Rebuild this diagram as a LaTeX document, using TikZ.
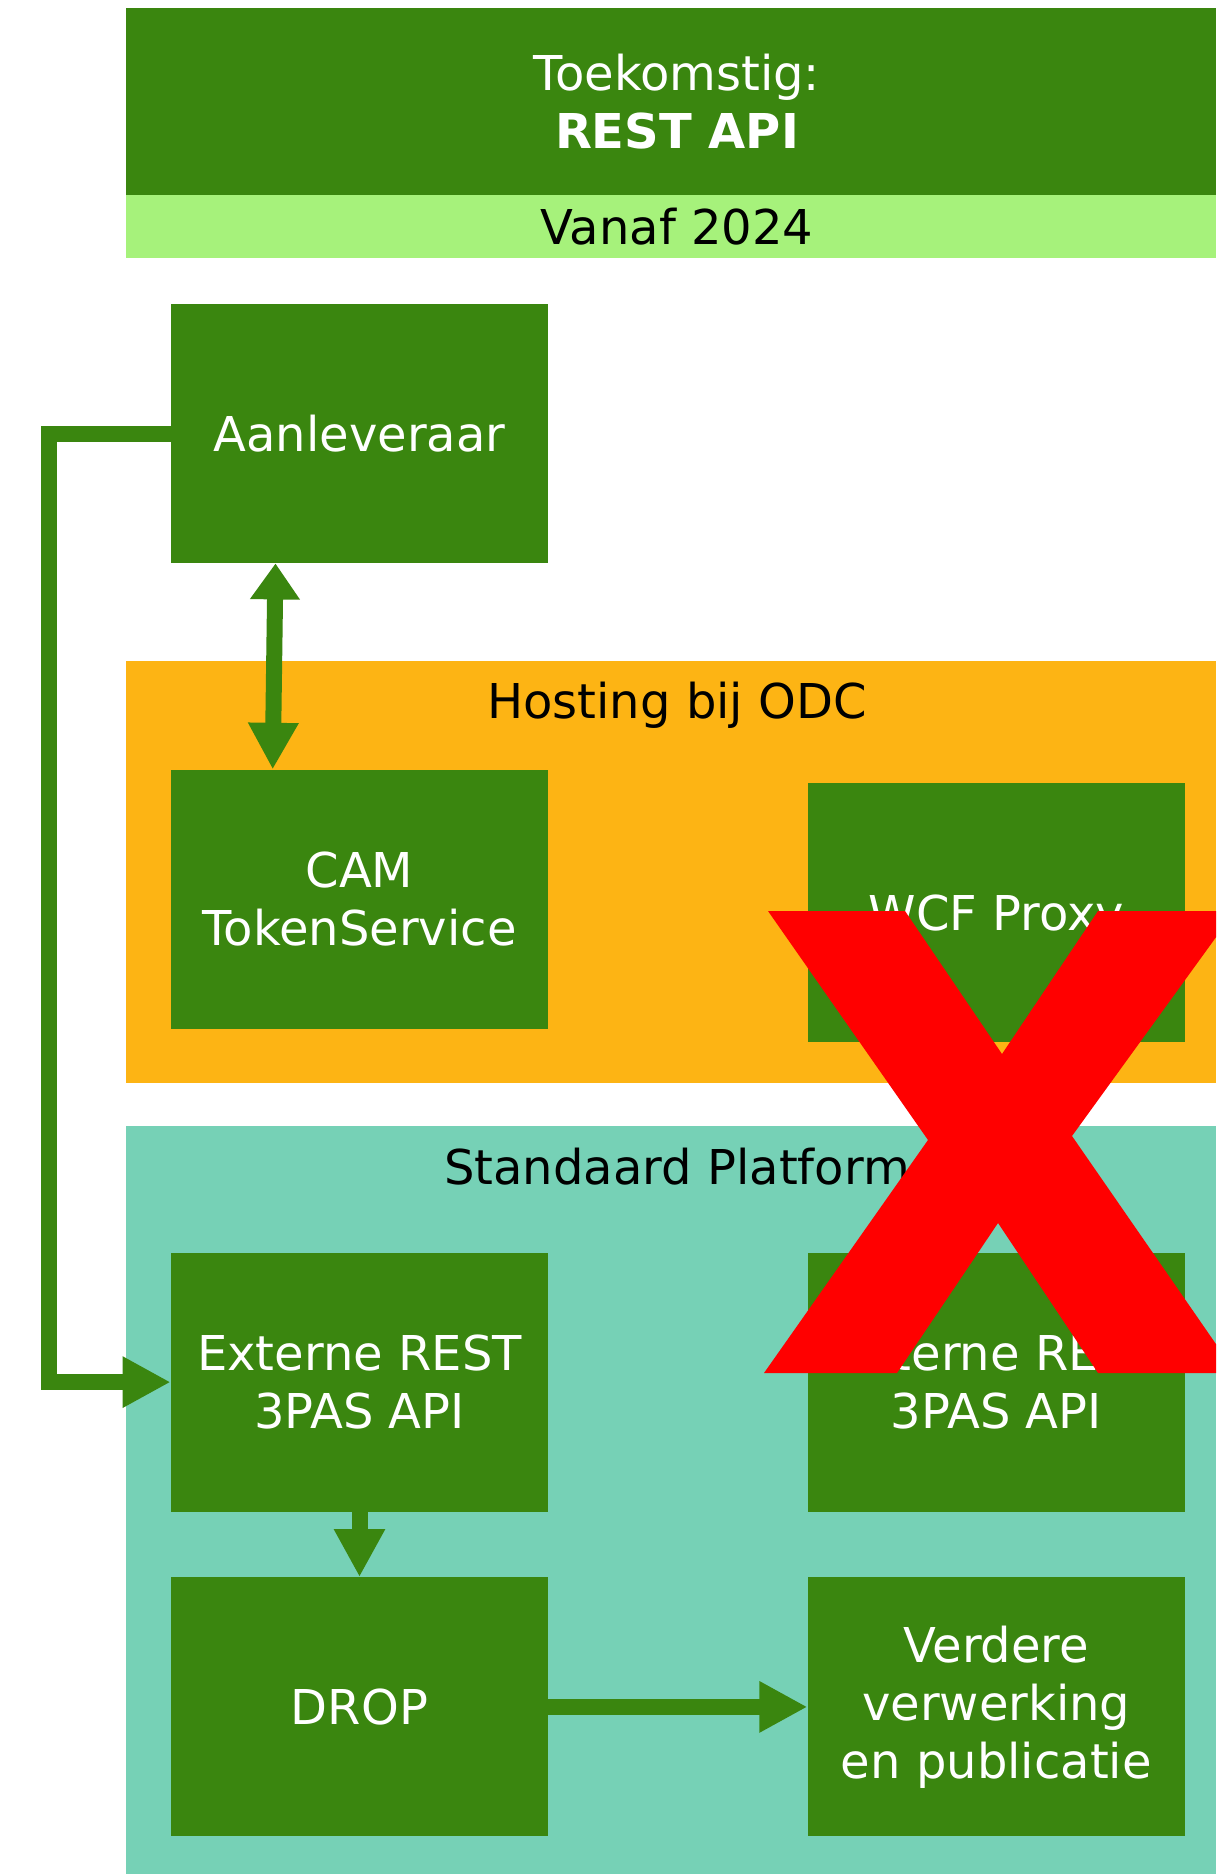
\documentclass[tikz,border=0pt]{standalone}
\usepackage{fontspec}
\setmainfont{DejaVu Sans}
\usetikzlibrary{positioning,arrows.meta}
\definecolor{donkergroen}{RGB}{58,134,15}
\definecolor{lichtgroen}{RGB}{166,242,123}
\definecolor{oranje}{RGB}{253,180,20}
\definecolor{turkoois}{RGB}{118,209,182}
\definecolor{rood}{RGB}{255,0,0}
\tikzset{
  blok/.style={fill=donkergroen, text=white, minimum width=188.5pt, minimum height=129.5pt,
    inner sep=0pt, align=center, font=\fontsize{24}{29}\selectfont},
  kopTekst/.style={font=\fontsize{24}{29}\selectfont, align=center},
  pijl/.style={draw=donkergroen, line width=8pt, -{Triangle[length=24pt,width=24pt]}},
}

\begin{document}
\begin{tikzpicture}[x=0.5pt,y=-0.5pt]
\clip (0,0) rectangle (1216,1874);
\fill[white] (0,0) rectangle (1216,1874);
%% de vlakken
\fill[donkergroen] (126,8) rectangle (1216,195);
\fill[lichtgroen] (126,195) rectangle (1216,258);
\fill[oranje] (126,661) rectangle (1216,1083);
\fill[turkoois] (126,1126) rectangle (1216,1874);
%koppen
\node [kopTekst, text=white] (kopTitel) at (677,101.5) {Toekomstig:\\\textbf{REST API}};
\node [kopTekst] (kopJaar) at (677,227) {Vanaf 2024};
\node [kopTekst, anchor=base] (kopOdc) at (677,718) {Hosting bij ODC};
\node [kopTekst, anchor=base] (kopPlatform) at (677,1184.5) {Standaard Platform};
%the nodes
\node [blok] (aanleveraar) at (359.5,433.5) {Aanleveraar};
\node [blok, below=103pt of aanleveraar] (camToken) {CAM\\TokenService};
\node [blok, text depth=0pt, right=129.5pt of camToken, yshift=-6.5pt] (wcfProxy) {WCF Proxy};
\node [blok, below=111.5pt of camToken] (externRest) {Externe REST\\3PAS API};
\node [blok, right=129.5pt of externRest] (externRestOud) {Externe REST\\3PAS API};
\node [blok, below=32.5pt of externRest] (drop) {DROP};
\node [blok, right=129.5pt of drop] (verdere) {Verdere\\verwerking\\en publicatie};
%drawings of lines
\coordinate (bocht) at (48.5,433.5);
\draw [pijl] (aanleveraar.west) -- (bocht) |- (externRest.west);
\draw [pijl, {Triangle[length=18pt,width=23.8pt]}-{Triangle[length=23.3pt,width=23.7pt]}]
  ([xshift=-42pt]aanleveraar.south) -- ([xshift=-43.4pt]camToken.north);
\draw [pijl] (externRest.south) -- (drop.north);
\draw [pijl] (drop.east) -- (verdere.west);
%% het rode kruis
\fill[rood] (768,911) -- (905,911) -- (1002,1054) -- (1098,911) -- (1235,911) -- (1072,1136)
  -- (1236,1373) -- (1098,1373) -- (998,1223) -- (897,1373) -- (764,1373) -- (928,1140) -- cycle;
\end{tikzpicture}
\end{document}
